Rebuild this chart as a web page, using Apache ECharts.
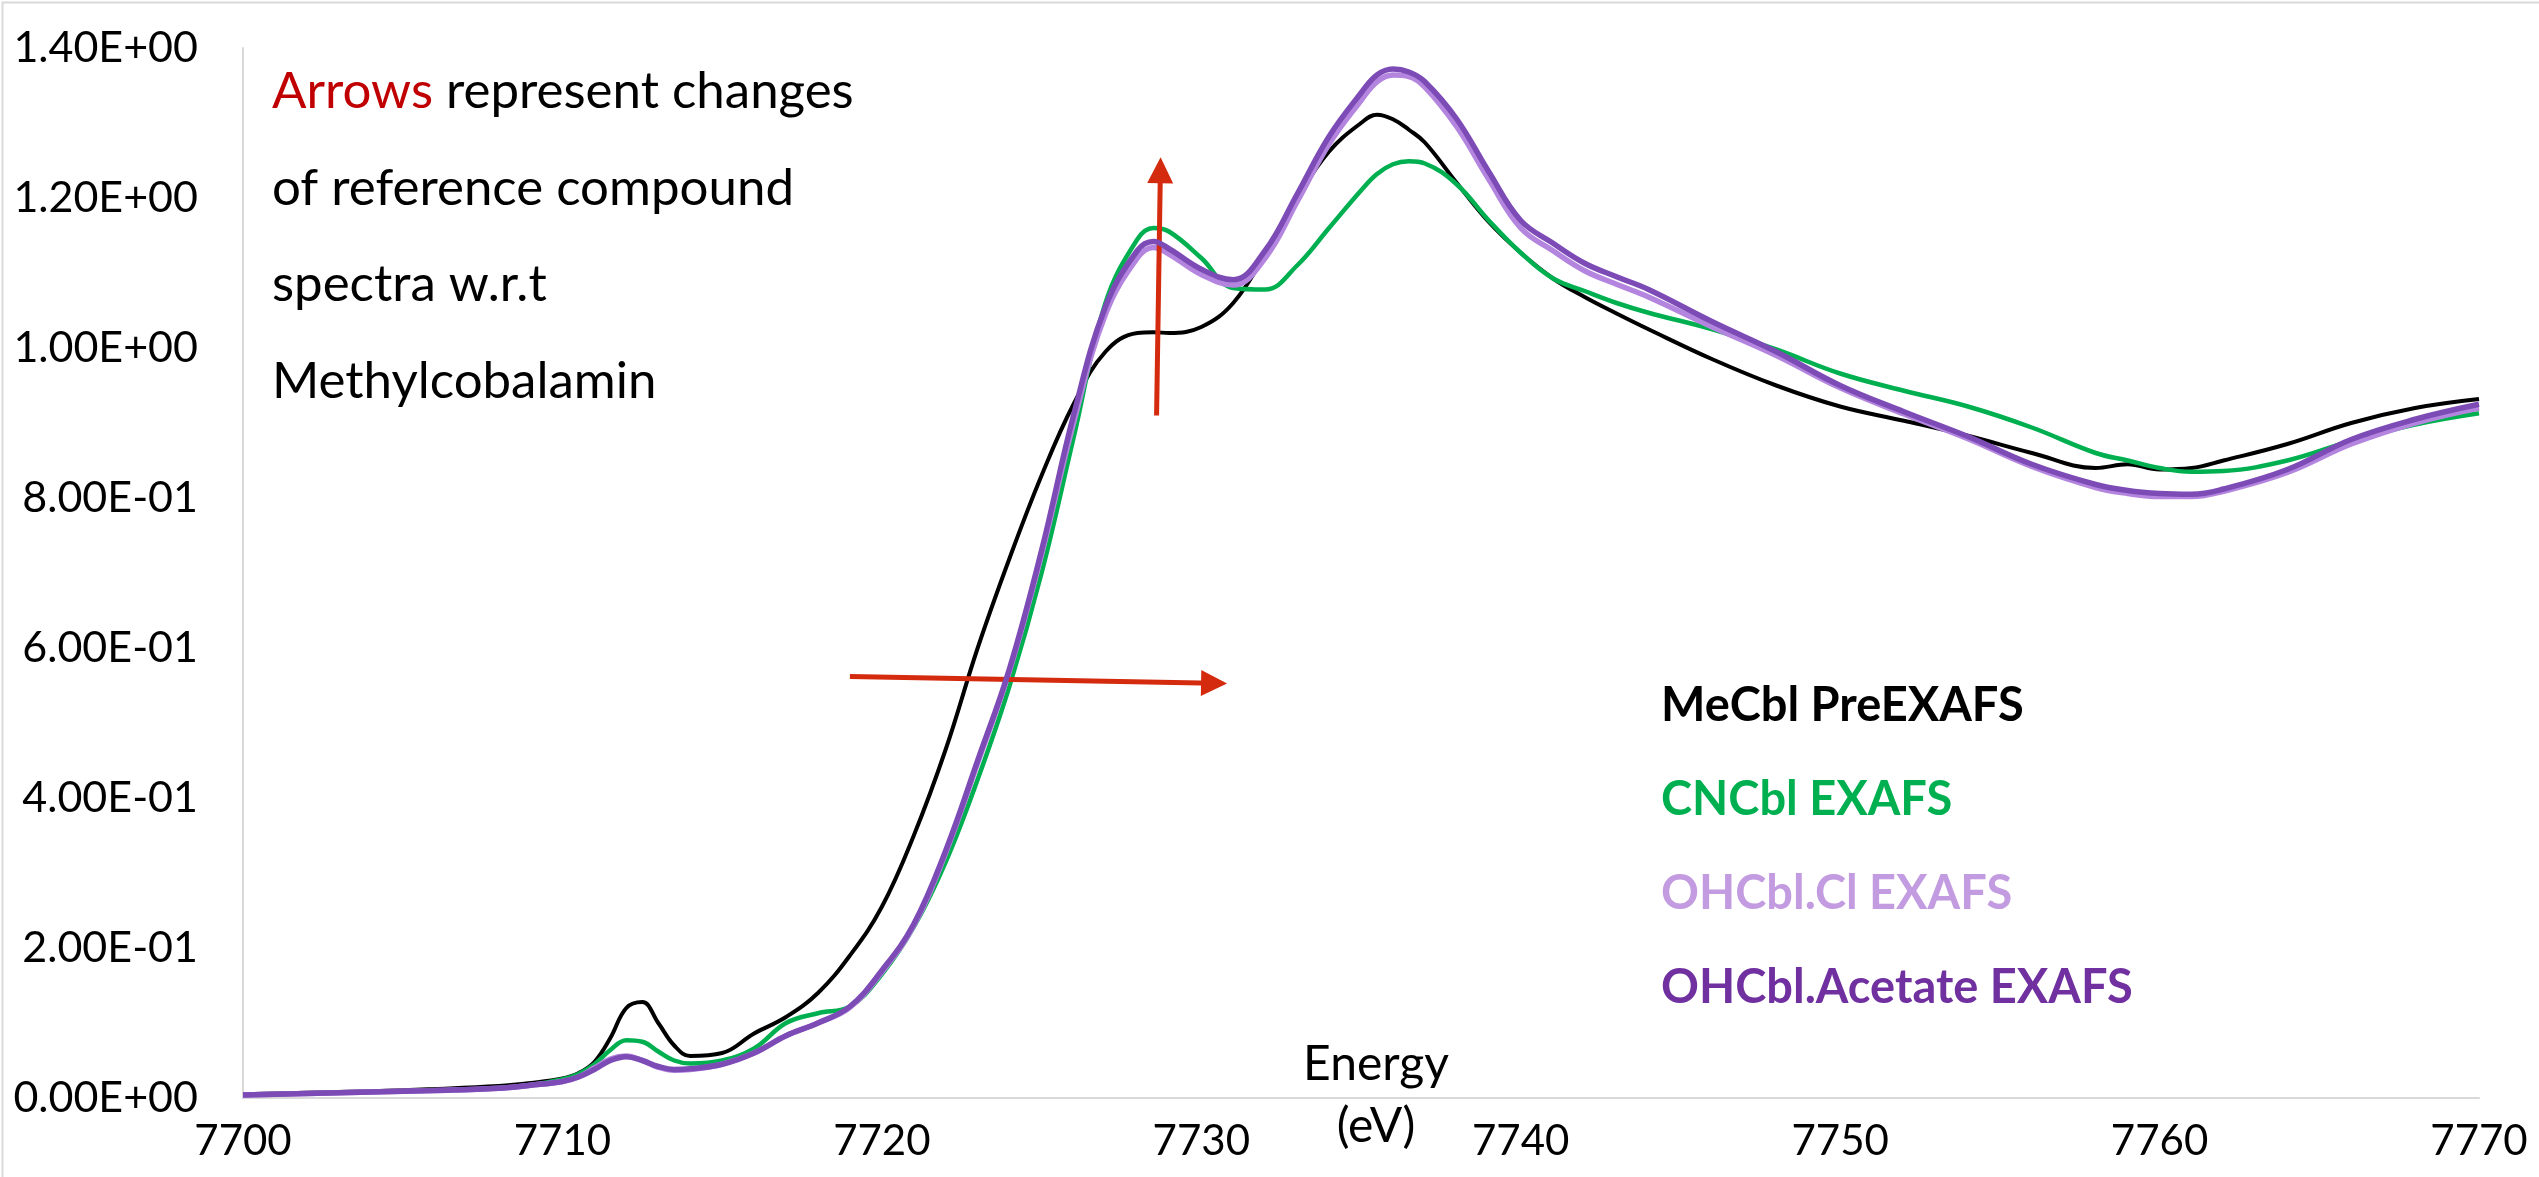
<!DOCTYPE html>
<html>
<head>
<meta charset="utf-8">
<script src="https://cdn.jsdelivr.net/npm/echarts@6/dist/echarts.min.js"></script>
<style>
html,body{margin:0;padding:0;background:#fff;}
#chart{width:2539px;height:1177px;}
</style>
</head>
<body>
<div id="chart"></div>
<script>
// ---- data ----
var energy = [7700,7702,7704,7706,7708,7709,7710,7710.5,7711,7711.5,7712,7712.5,7713,7713.5,7714,7715,7716,7717,7718,7719,7720,7721,7722,7723,7724,7725,7726,7727,7728,7728.5,7729,7730,7731,7732,7733,7734,7735,7735.5,7736,7736.5,7737,7738,7739,7740,7741,7742,7743,7744,7746,7748,7750,7752,7754,7756,7758,7759,7760,7761,7762,7764,7766,7768,7770];

var meCbl = [0.005,0.007,0.009,0.012,0.016,0.020,0.026,0.033,0.048,0.080,0.120,0.128,0.100,0.070,0.056,0.060,0.086,0.108,0.140,0.190,0.255,0.350,0.465,0.600,0.720,0.830,0.925,0.995,1.020,1.021,1.020,1.028,1.060,1.125,1.200,1.262,1.300,1.311,1.305,1.291,1.274,1.220,1.168,1.127,1.093,1.068,1.046,1.025,0.985,0.950,0.922,0.903,0.883,0.860,0.840,0.845,0.838,0.840,0.850,0.872,0.900,0.920,0.932];

var cnCbl = [0.004,0.006,0.008,0.010,0.013,0.017,0.025,0.032,0.045,0.064,0.077,0.075,0.062,0.050,0.046,0.050,0.066,0.100,0.113,0.122,0.165,0.228,0.315,0.425,0.550,0.700,0.880,1.060,1.145,1.160,1.155,1.120,1.080,1.078,1.110,1.160,1.210,1.232,1.245,1.249,1.246,1.218,1.170,1.127,1.093,1.076,1.060,1.047,1.025,0.998,0.966,0.943,0.922,0.894,0.860,0.850,0.840,0.835,0.836,0.850,0.876,0.898,0.913];

var ohCblCl = [0.004,0.006,0.008,0.010,0.013,0.017,0.022,0.028,0.040,0.052,0.056,0.050,0.041,0.037,0.038,0.045,0.060,0.083,0.100,0.121,0.168,0.230,0.327,0.447,0.570,0.725,0.900,1.045,1.120,1.134,1.125,1.098,1.084,1.120,1.195,1.272,1.330,1.355,1.364,1.362,1.348,1.295,1.225,1.160,1.130,1.103,1.085,1.068,1.028,0.990,0.947,0.912,0.879,0.842,0.814,0.806,0.802,0.802,0.809,0.834,0.872,0.900,0.920];

var ohCblAc = [0.004,0.006,0.008,0.010,0.013,0.017,0.022,0.028,0.038,0.050,0.055,0.050,0.042,0.038,0.039,0.045,0.060,0.083,0.100,0.122,0.170,0.232,0.330,0.450,0.573,0.730,0.910,1.055,1.130,1.142,1.132,1.105,1.091,1.130,1.205,1.282,1.340,1.364,1.372,1.368,1.355,1.305,1.235,1.170,1.140,1.113,1.095,1.078,1.035,0.995,0.950,0.915,0.882,0.845,0.818,0.810,0.806,0.805,0.812,0.838,0.878,0.905,0.925];

var seriesNames = ['MeCbl PreEXAFS','CNCbl EXAFS','OHCbl.Cl EXAFS','OHCbl.Acetate EXAFS'];
var xTicks = {min:7700, max:7770, interval:10};
var yTicks = {min:0, max:1.4, interval:0.2};

// arrows in data coordinates [energy, value] (end = centre of arrow head)
var arrowUp = [[7728.6, 0.91], [7728.72, 1.237]];
var arrowRight = [[7719.0, 0.562], [7730.4, 0.553]];

var noteLines = ['Arrows', ' represent changes', 'of reference compound', 'spectra w.r.t', 'Methylcobalamin'];

// ---- chart ----
function zip(xs, ys){ return xs.map(function(x,i){ return [x, ys[i]]; }); }
function sci(v){
  if (Math.abs(v) < 1e-12) return '0.00E+00';
  var e = Math.floor(Math.log10(Math.abs(v)) + 1e-9);
  var m = v / Math.pow(10, e);
  var s = e < 0 ? '-' : '+';
  var ae = Math.abs(e);
  return m.toFixed(2) + 'E' + s + (ae < 10 ? '0' + ae : '' + ae);
}

var FONT = 'Lato, "Open Sans", sans-serif';
var colors = ['#000000', '#00B050', '#B385DE', '#7D4BB6'];
var legendColors = ['#000000', '#00B050', '#C39BE0', '#7030A0'];
var widths = [4, 4.5, 5.5, 5.5];
var datasets = [meCbl, cnCbl, ohCblCl, ohCblAc];

var chart = echarts.init(document.getElementById('chart'));

var series = datasets.map(function(d, i){
  return {
    name: seriesNames[i],
    type: 'line',
    data: zip(energy, d),
    smooth: 0.4,
    showSymbol: false,
    symbol: 'none',
    lineStyle: {color: colors[i], width: widths[i]},
    itemStyle: {color: colors[i]},
    z: 2 + i,
    animation: false
  };
});

series.push({
  name: 'arrows',
  type: 'line',
  data: [],
  animation: false,
  z: 10,
  markLine: {
    silent: true,
    animation: false,
    symbol: ['none', 'triangle'],
    symbolSize: [26, 26],
    label: {show: false},
    lineStyle: {color: '#D42A0E', width: 5, type: 'solid'},
    data: [
      [{coord: arrowUp[0]}, {coord: arrowUp[1]}],
      [{coord: arrowRight[0]}, {coord: arrowRight[1]}]
    ]
  }
});

var noteX = 272;
var noteY = [94, 191, 287, 384];
var NF = '51px ' + FONT;
var graphics = [
  {type:'rect', left:0, top:0, shape:{width:2538, height:1176}, style:{fill:'none', stroke:'#D9D9D9', lineWidth:2}, silent:true},
  {type:'text', left:noteX, top:noteY[0]-28, style:{
    text:'{r|' + noteLines[0] + '}{k|' + noteLines[1] + '}',
    rich:{r:{fill:'#C00000', font:NF}, k:{fill:'#000', font:NF}}
  }},
  {type:'text', left:noteX, top:noteY[1]-28, style:{text:noteLines[2], fill:'#000', font:NF}},
  {type:'text', left:noteX, top:noteY[2]-28, style:{text:noteLines[3], fill:'#000', font:NF}},
  {type:'text', left:noteX, top:noteY[3]-28, style:{text:noteLines[4], fill:'#000', font:NF}}
];

chart.setOption({
  animation: false,
  backgroundColor: '#ffffff',
  grid: {left: 243, right: 60, top: 48, bottom: 79, containLabel: false, outerBoundsMode: 'none'},
  xAxis: {
    type: 'value',
    min: xTicks.min, max: xTicks.max, interval: xTicks.interval,
    name: 'Energy\n(eV)',
    nameLocation: 'middle',
    nameGap: -2,
    nameMoveOverlap: false,
    nameTextStyle: {fontFamily: FONT, fontSize: 48, color: '#000', lineHeight: 62, verticalAlign: 'middle', padding: [0,0,0,30]},
    axisLine: {show: true, onZero: false, lineStyle: {color: '#D9D9D9', width: 2}},
    axisTick: {show: false},
    splitLine: {show: false},
    axisLabel: {fontFamily: FONT, fontSize: 42, color: '#000', margin: 22, formatter: function(v){ return String(v); }}
  },
  yAxis: {
    type: 'value',
    min: yTicks.min, max: yTicks.max, interval: yTicks.interval,
    axisLine: {show: true, lineStyle: {color: '#D9D9D9', width: 2}},
    axisTick: {show: false},
    splitLine: {show: false},
    axisLabel: {fontFamily: FONT, fontSize: 43, color: '#000', margin: 45, formatter: sci}
  },
  legend: {
    show: true,
    orient: 'vertical',
    left: 1651,
    top: 677,
    itemWidth: 0,
    itemHeight: 0,
    itemGap: 47,
    icon: 'none',
    selectedMode: false,
    data: seriesNames.map(function(n, i){
      return {name: n, icon: 'none', textStyle: {color: legendColors[i]}};
    }),
    textStyle: {fontFamily: FONT, fontSize: 47, fontWeight: 'bold'}
  },
  graphic: graphics,
  series: series
});
</script>
</body>
</html>
